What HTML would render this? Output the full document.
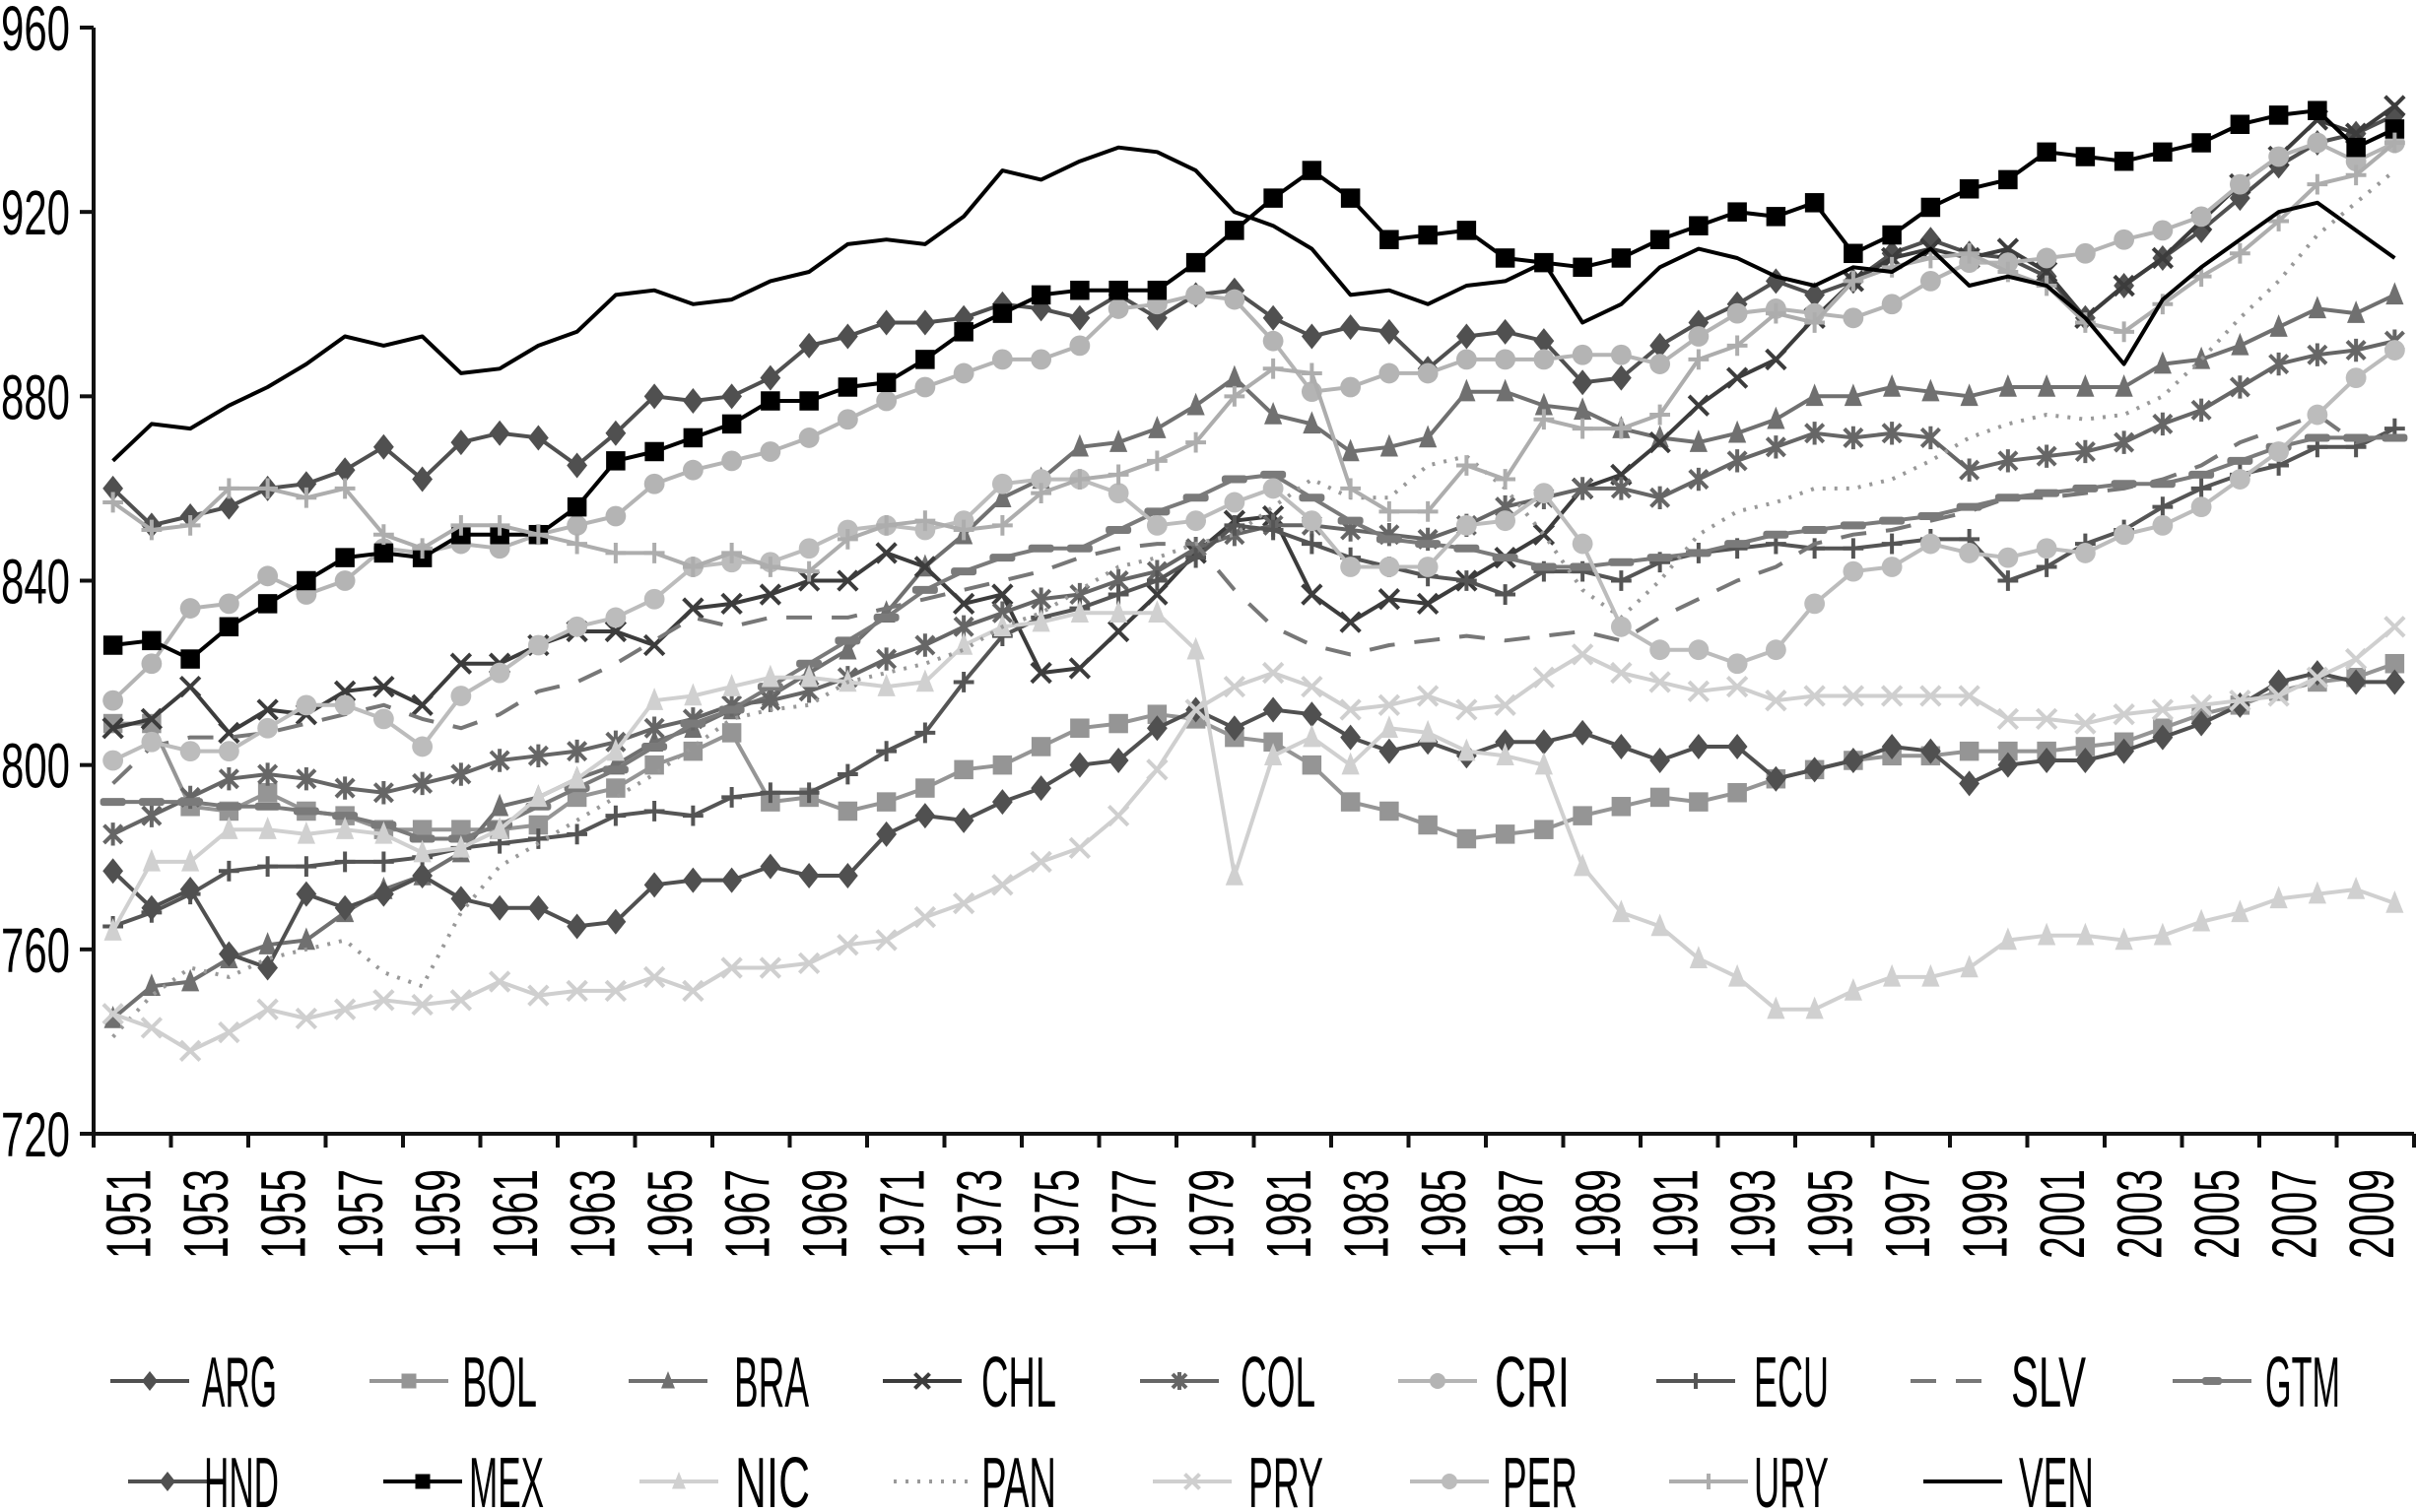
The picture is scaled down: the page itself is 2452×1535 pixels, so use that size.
<!DOCTYPE html>
<html><head><meta charset="utf-8"><style>
html,body{margin:0;padding:0;background:#fff;}
svg{display:block;}
text{font-family:"Liberation Sans Narrow","Liberation Sans",sans-serif;fill:#000;}
</style></head><body>
<svg id="chart" width="2452" height="1535" viewBox="0 0 2452 1535" xmlns="http://www.w3.org/2000/svg">
<g id="axes"></g>
<g id="series"></g>
<g id="legend"></g>
</svg>
<script>
const years = [];
for (let y = 1951; y <= 2010; y++) years.push(y);
const yTicks = [720, 760, 800, 840, 880, 920, 960];
const xTickLabels = ['1951','1953','1955','1957','1959','1961','1963','1965','1967','1969','1971','1973','1975','1977','1979','1981','1983','1985','1987','1989','1991','1993','1995','1997','1999','2001','2003','2005','2007','2009'];

const ARG = [860,852,854,856,860,861,864,869,862,870,872,871,865,872,880,879,880,884,891,893,896,896,897,900,899,897,902,897,902,903,897,893,895,894,886,893,894,892,883,884,891,896,900,905,902,905,911,914,911,910,906,897,904,910,916,923,930,935,937,941];
const BOL = [809,809,791,790,794,790,789,786,786,786,786,787,793,795,800,803,807,792,793,790,792,795,799,800,804,808,809,811,810,806,805,800,792,790,787,784,785,786,789,791,793,792,794,797,799,801,802,802,803,803,803,804,805,808,811,813,816,818,819,822];
const BRA = [745,752,753,758,761,762,768,773,776,781,791,793,797,800,805,808,812,815,820,825,833,843,850,858,862,869,870,873,878,884,876,874,868,869,871,881,881,878,877,873,871,870,872,875,880,880,882,881,880,882,882,882,882,887,888,891,895,899,898,902];
const CHL = [808,810,817,807,812,811,816,817,813,822,822,826,829,829,826,834,835,837,840,840,846,843,835,837,820,821,829,837,846,853,854,837,831,836,835,840,845,850,860,863,870,878,884,888,897,905,910,912,910,912,907,897,904,910,918,926,932,940,937,943];
const COL = [785,789,793,797,798,797,795,794,796,798,801,802,803,805,808,810,813,814,816,819,823,826,830,833,836,837,840,842,847,850,852,852,851,850,849,852,856,858,860,860,858,862,866,869,872,871,872,871,864,866,867,868,870,874,877,882,887,889,890,892];
const CRI = [814,822,834,835,841,837,840,847,846,848,847,850,852,854,861,864,866,868,871,875,879,882,885,888,888,891,899,900,902,901,892,881,882,885,885,888,888,888,889,889,887,893,898,899,898,897,900,905,909,909,910,911,914,916,919,926,932,935,931,935];
const ECU = [765,768,772,777,778,778,779,779,780,782,783,784,785,789,790,789,793,794,794,798,803,807,818,828,832,834,837,840,845,852,851,848,845,843,841,840,837,842,842,840,844,846,847,848,847,847,848,849,849,840,843,848,851,856,860,863,865,869,869,873];
const SLV = [796,804,806,806,807,809,811,813,810,808,811,816,818,822,827,832,830,832,832,832,834,836,838,840,842,845,847,848,848,838,830,826,824,826,827,828,827,828,829,827,832,836,840,843,848,850,851,853,855,858,858,859,860,862,865,870,873,876,870,872];
const GTM = [792,792,792,791,791,790,789,787,784,784,787,791,795,799,804,809,812,817,822,827,832,838,842,845,847,847,851,855,858,862,863,858,853,849,848,847,845,843,843,844,845,846,848,850,851,852,853,854,856,858,859,860,861,861,863,866,869,871,871,871];
const HND = [777,769,773,759,756,772,769,772,776,771,769,769,765,766,774,775,775,778,776,776,785,789,788,792,795,800,801,808,812,808,812,811,806,803,805,802,805,805,807,804,801,804,804,797,799,801,804,803,796,800,801,801,803,806,809,813,818,820,818,818];
const MEX = [826,827,823,830,835,840,845,846,845,850,850,850,856,866,868,871,874,879,879,882,883,888,894,898,902,903,903,903,909,916,923,929,923,914,915,916,910,909,908,910,914,917,920,919,922,911,915,921,925,927,933,932,931,933,935,939,941,942,934,938];
const NIC = [764,779,779,786,786,785,786,785,781,782,786,793,797,803,814,815,817,819,819,818,817,818,826,830,831,833,833,833,825,776,802,806,800,808,807,803,802,800,778,768,765,758,754,747,747,751,754,754,756,762,763,763,762,763,766,768,771,772,773,770];
const PAN = [741,750,756,754,758,760,762,755,752,768,778,783,788,793,798,804,810,812,813,818,820,822,825,830,833,838,843,845,848,850,856,862,858,858,865,867,860,850,838,832,840,850,855,857,860,860,862,866,871,874,876,875,876,880,888,897,905,915,922,929];
const PRY = [746,743,738,742,747,745,747,749,748,749,753,750,751,751,754,751,756,756,757,761,762,767,770,774,779,782,789,799,812,817,820,817,812,813,815,812,813,819,824,820,818,816,817,814,815,815,815,815,815,810,810,809,811,812,813,814,815,819,823,830];
const PER = [801,805,803,803,808,813,813,810,804,815,820,826,830,832,836,843,844,844,847,851,852,851,853,861,862,862,859,852,853,857,860,853,843,843,843,852,853,859,848,830,825,825,822,825,835,842,843,848,846,845,847,846,850,852,856,862,868,876,884,890];
const URY = [857,851,852,860,860,858,860,850,847,852,852,850,848,846,846,843,846,843,842,849,852,853,851,852,859,862,863,866,870,880,886,885,860,855,855,865,862,875,873,873,876,888,891,898,896,905,908,910,911,907,904,896,894,900,906,911,918,926,928,935];
const VEN = [866,874,873,878,882,887,893,891,893,885,886,891,894,902,903,900,901,905,907,913,914,913,919,929,927,931,934,933,929,920,917,912,902,903,900,904,905,909,896,900,908,912,910,906,904,908,907,912,904,906,904,897,887,901,908,914,920,922,916,910];

const seriesNames = ['ARG','BOL','BRA','CHL','COL','CRI','ECU','SLV','GTM','HND','MEX','NIC','PAN','PRY','PER','URY','VEN'];
const seriesValues = [ARG,BOL,BRA,CHL,COL,CRI,ECU,SLV,GTM,HND,MEX,NIC,PAN,PRY,PER,URY,VEN];

const styles = {
 ARG:{c:'#505050',m:'diamond'}, BOL:{c:'#959595',m:'square'}, BRA:{c:'#707070',m:'triangle'},
 CHL:{c:'#3c3c3c',m:'x'}, COL:{c:'#666',m:'star'}, CRI:{c:'#b4b4b4',m:'circle'},
 ECU:{c:'#555',m:'plus'}, SLV:{c:'#777',m:'none',dash:'26 20'}, GTM:{c:'#7a7a7a',m:'bar'},
 HND:{c:'#505050',m:'diamond'}, MEX:{c:'#000',m:'square'}, NIC:{c:'#d0d0d0',m:'triangle'},
 PAN:{c:'#999',m:'none',dash:'3 9'}, PRY:{c:'#cfcfcf',m:'x'}, PER:{c:'#bcbcbc',m:'circle'},
 URY:{c:'#adadad',m:'plus'}, VEN:{c:'#000',m:'none'}
};

const X0 = 95, X1 = 2450, Y0 = 1151, Y1 = 28, VMIN = 720, VMAX = 960;
const band = (X1 - X0) / years.length;
function xScale(i){ return X0 + band * (i + 0.5); }
function yScale(v){ return Y0 - (v - VMIN) / (VMAX - VMIN) * (Y0 - Y1); }

const NS = 'http://www.w3.org/2000/svg';
function mk(tag, attrs, parent){
  const e = document.createElementNS(NS, tag);
  for (const k in attrs) e.setAttribute(k, attrs[k]);
  parent.appendChild(e);
  return e;
}

const axes = document.getElementById('axes');
const yAxis = mk('line',{x1:X0,y1:Y1,x2:X0,y2:Y0,stroke:'#111','stroke-width':4},axes);


const xAxis = mk('line',{x1:X0-2,y1:Y0,x2:X1,y2:Y0,stroke:'#111','stroke-width':4},axes);



yTicks.forEach(v=>{
  const y = yScale(v);
  const t = mk('line',{x1:X0-14,y1:y,x2:X0,y2:y,stroke:'#111','stroke-width':4},axes);
  
  
  const lb = mk('text',{x:71,y:y+23,'text-anchor':'end','font-size':64,textLength:70,lengthAdjust:'spacingAndGlyphs'},axes);
  lb.textContent = String(v);
  
  
});

for (let k = 0; k <= years.length/2; k++){
  const x = X0 + band*2*k;
  const t = mk('line',{x1:x,y1:Y0,x2:x,y2:Y0+14,stroke:'#111','stroke-width':4},axes);
  
  
}
xTickLabels.forEach((lab,k)=>{
  const x = X0 + band*(2*k+1) - 5;
  const y = 1187;
  const lb = mk('text',{x:0,y:0,'text-anchor':'end','font-size':64,textLength:91,lengthAdjust:'spacingAndGlyphs',transform:`translate(${x+23},${y}) rotate(-90)`},axes);
  lb.textContent = lab;
  
  
});

function marker(g, type, x, y, c, s){
  let e;
  if (type==='diamond') e = mk('polygon',{points:`${x},${y-s} ${x+s*0.8},${y} ${x},${y+s} ${x-s*0.8},${y}`,fill:c},g);
  else if (type==='square') e = mk('rect',{x:x-s*0.75,y:y-s*0.75,width:s*1.5,height:s*1.5,fill:c},g);
  else if (type==='triangle') e = mk('polygon',{points:`${x},${y-s} ${x+s*0.7},${y+s*0.75} ${x-s*0.7},${y+s*0.75}`,fill:c},g);
  else if (type==='circle') e = mk('circle',{cx:x,cy:y,r:s*0.8,fill:c},g);
  else if (type==='x') e = mk('path',{d:`M${x-s*0.75},${y-s*0.75}L${x+s*0.75},${y+s*0.75}M${x-s*0.75},${y+s*0.75}L${x+s*0.75},${y-s*0.75}`,stroke:c,'stroke-width':4,fill:'none'},g);
  else if (type==='plus') e = mk('path',{d:`M${x-s*0.8},${y}L${x+s*0.8},${y}M${x},${y-s*0.8}L${x},${y+s*0.8}`,stroke:c,'stroke-width':4,fill:'none'},g);
  else if (type==='star') e = mk('path',{d:`M${x-s*0.7},${y-s*0.7}L${x+s*0.7},${y+s*0.7}M${x-s*0.7},${y+s*0.7}L${x+s*0.7},${y-s*0.7}M${x},${y-s*0.9}L${x},${y+s*0.9}`,stroke:c,'stroke-width':4,fill:'none'},g);
  else if (type==='bar') e = mk('rect',{x:x-s,y:y-4,width:s*2,height:8,rx:3,fill:c},g);
  return e;
}

const sg = document.getElementById('series');
seriesNames.forEach((name,si)=>{
  const st = styles[name];
  const vals = seriesValues[si];
  const g = mk('g',{},sg);
  
  
  const d = vals.map((v,i)=>(i?'L':'M')+xScale(i).toFixed(1)+','+yScale(v).toFixed(1)).join('');
  const attrs = {d:d,fill:'none',stroke:st.c,'stroke-width':4,'stroke-linejoin':'round'};
  if (st.dash) attrs['stroke-dasharray'] = st.dash;
  const p = mk('path',attrs,g);
  
  
  if (st.m !== 'none'){
    vals.forEach((v,i)=>{
      const m = marker(g, st.m, xScale(i), yScale(v), st.c, 13);
      
      
    });
  }
});

const legendPos = [
 ['ARG',112,205,1402],['BOL',375,469,1402],['BRA',638,745,1402],['CHL',896,996,1402],['COL',1157,1259,1402],
 ['CRI',1419,1517,1402],['ECU',1681,1780,1402],['SLV',1939,2041,1402],['GTM',2205,2299,1402],
 ['HND',130,207,1504],['MEX',389,476,1504],['NIC',649,746,1504],['PAN',907,996,1504],['PRY',1170,1267,1504],
 ['PER',1431,1525,1504],['URY',1694,1780,1504],['VEN',1952,2049,1504]
];
const lg = document.getElementById('legend');
legendPos.forEach(([name,lx,tx,y])=>{
  const st = styles[name];
  const g = mk('g',{},lg);
  
  
  const a = {x1:lx,y1:y,x2:lx+80,y2:y,stroke:st.c,'stroke-width':4};
  if (st.dash) a['stroke-dasharray'] = st.dash;
  mk('line',a,g);
  if (st.m!=='none') marker(g, st.m, lx+40, y, st.c, 10);
  const t = mk('text',{x:tx,y:y+26,'font-size':72,textLength:76,lengthAdjust:'spacingAndGlyphs'},g);
  t.textContent = name;
  
  
});
</script>
</body></html>
